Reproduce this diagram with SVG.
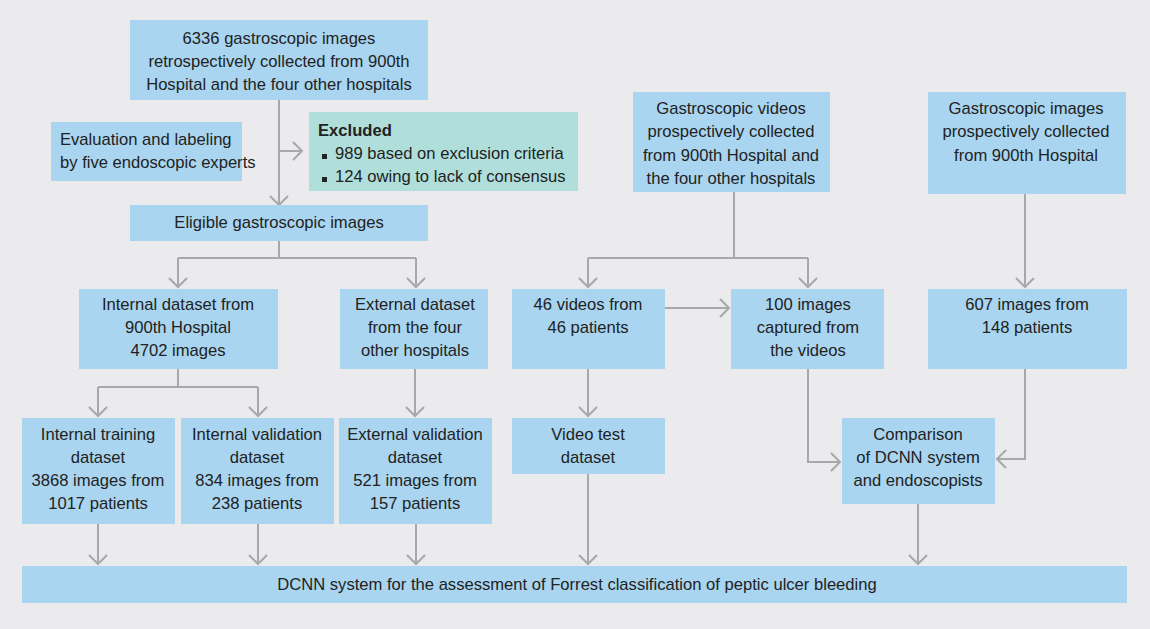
<svg xmlns="http://www.w3.org/2000/svg" width="1150" height="629" viewBox="0 0 1150 629">
<style>
.bx{fill:#a9d5f0}
.ex{fill:#b0dfdb}
text{font-family:"Liberation Sans",Arial,sans-serif;font-size:16.6px;fill:#222}
.c{text-anchor:middle}
.b{font-weight:bold}
.ln{fill:none;stroke:#a8a8aa;stroke-width:2}
</style>
<defs>
<marker id="ah" markerUnits="userSpaceOnUse" markerWidth="20" markerHeight="20" viewBox="0 0 20 20" refX="18" refY="10" orient="auto">
<path d="M9,1 L18,10 L9,19" fill="none" stroke="#a8a8aa" stroke-width="2"/>
</marker>
</defs>
<rect width="1150" height="629" fill="#ebebed"/>
<g id="connectors">
<path class="ln" d="M279,100 V205" marker-end="url(#ah)"/>
<path class="ln" d="M279,151 H302" marker-end="url(#ah)"/>
<path class="ln" d="M279,241 V258"/>
<path class="ln" d="M178,258 H416"/>
<path class="ln" d="M178,258 V287" marker-end="url(#ah)"/>
<path class="ln" d="M416,258 V287" marker-end="url(#ah)"/>
<path class="ln" d="M178,369 V387"/>
<path class="ln" d="M98,387 H258"/>
<path class="ln" d="M98,387 V416" marker-end="url(#ah)"/>
<path class="ln" d="M258,387 V416" marker-end="url(#ah)"/>
<path class="ln" d="M415,369 V416" marker-end="url(#ah)"/>
<path class="ln" d="M734,192 V258"/>
<path class="ln" d="M588,258 H808"/>
<path class="ln" d="M588,258 V287" marker-end="url(#ah)"/>
<path class="ln" d="M808,258 V287" marker-end="url(#ah)"/>
<path class="ln" d="M1025,194 V287" marker-end="url(#ah)"/>
<path class="ln" d="M665,308 H729" marker-end="url(#ah)"/>
<path class="ln" d="M588,369 V416" marker-end="url(#ah)"/>
<path class="ln" d="M808,369 V462 H840" marker-end="url(#ah)"/>
<path class="ln" d="M1025,369 V459 H997" marker-end="url(#ah)"/>
<path class="ln" d="M98,524 V564" marker-end="url(#ah)"/>
<path class="ln" d="M258,524 V564" marker-end="url(#ah)"/>
<path class="ln" d="M416,524 V564" marker-end="url(#ah)"/>
<path class="ln" d="M588,474 V564" marker-end="url(#ah)"/>
<path class="ln" d="M918,504 V564" marker-end="url(#ah)"/>
</g>
<g id="n-top">
<rect class="bx" x="130" y="20" width="298" height="80"/>
<text class="c" x="279" y="44">6336 gastroscopic images</text>
<text class="c" x="279" y="67">retrospectively collected from 900th</text>
<text class="c" x="279" y="90">Hospital and the four other hospitals</text>
</g>
<g id="n-eval">
<rect class="bx" x="51" y="122" width="191" height="59"/>
<text x="60" y="145">Evaluation and labeling</text>
<text x="60" y="168">by five endoscopic experts</text>
</g>
<g id="n-excl">
<rect class="ex" x="309" y="112" width="269" height="79"/>
<text class="b" x="318" y="136">Excluded</text>
<rect x="322" y="154" width="5" height="5" fill="#222"/>
<text x="335" y="159">989 based on exclusion criteria</text>
<rect x="322" y="177" width="5" height="5" fill="#222"/>
<text x="335" y="182">124 owing to lack of consensus</text>
</g>
<g id="n-elig">
<rect class="bx" x="130" y="205" width="298" height="36"/>
<text class="c" x="279" y="228">Eligible gastroscopic images</text>
</g>
<g id="n-int">
<rect class="bx" x="79" y="289" width="199" height="80"/>
<text class="c" x="178" y="310">Internal dataset from</text>
<text class="c" x="178" y="333">900th Hospital</text>
<text class="c" x="178" y="356">4702 images</text>
</g>
<g id="n-ext">
<rect class="bx" x="340" y="289" width="148" height="80"/>
<text class="c" x="415" y="310">External dataset</text>
<text class="c" x="415" y="333">from the four</text>
<text class="c" x="415" y="356">other hospitals</text>
</g>
<g id="n-itrain">
<rect class="bx" x="22" y="418" width="153" height="106"/>
<text class="c" x="98" y="440">Internal training</text>
<text class="c" x="98" y="463">dataset</text>
<text class="c" x="98" y="486">3868 images from</text>
<text class="c" x="98" y="509">1017 patients</text>
</g>
<g id="n-ival">
<rect class="bx" x="181" y="418" width="153" height="106"/>
<text class="c" x="257" y="440">Internal validation</text>
<text class="c" x="257" y="463">dataset</text>
<text class="c" x="257" y="486">834 images from</text>
<text class="c" x="257" y="509">238 patients</text>
</g>
<g id="n-eval2">
<rect class="bx" x="339" y="418" width="153" height="106"/>
<text class="c" x="415" y="440">External validation</text>
<text class="c" x="415" y="463">dataset</text>
<text class="c" x="415" y="486">521 images from</text>
<text class="c" x="415" y="509">157 patients</text>
</g>
<g id="n-vid">
<rect class="bx" x="633" y="92" width="197" height="100"/>
<text class="c" x="731" y="114">Gastroscopic videos</text>
<text class="c" x="731" y="137">prospectively collected</text>
<text class="c" x="731" y="161">from 900th Hospital and</text>
<text class="c" x="731" y="184">the four other hospitals</text>
</g>
<g id="n-img">
<rect class="bx" x="928" y="92" width="198" height="102"/>
<text class="c" x="1026" y="114">Gastroscopic images</text>
<text class="c" x="1026" y="137">prospectively collected</text>
<text class="c" x="1026" y="161">from 900th Hospital</text>
</g>
<g id="n-46">
<rect class="bx" x="512" y="289" width="153" height="80"/>
<text class="c" x="588" y="310">46 videos from</text>
<text class="c" x="588" y="333">46 patients</text>
</g>
<g id="n-100">
<rect class="bx" x="731" y="289" width="153" height="80"/>
<text class="c" x="808" y="310">100 images</text>
<text class="c" x="808" y="333">captured from</text>
<text class="c" x="808" y="356">the videos</text>
</g>
<g id="n-607">
<rect class="bx" x="928" y="289" width="199" height="80"/>
<text class="c" x="1027" y="310">607 images from</text>
<text class="c" x="1027" y="333">148 patients</text>
</g>
<g id="n-vtest">
<rect class="bx" x="512" y="418" width="153" height="56"/>
<text class="c" x="588" y="440">Video test</text>
<text class="c" x="588" y="463">dataset</text>
</g>
<g id="n-comp">
<rect class="bx" x="842" y="418" width="153" height="86"/>
<text class="c" x="918" y="440">Comparison</text>
<text class="c" x="918" y="463">of DCNN system</text>
<text class="c" x="918" y="486">and endoscopists</text>
</g>
<g id="n-dcnn">
<rect class="bx" x="22" y="566" width="1105" height="37"/>
<text class="c" x="577" y="590">DCNN system for the assessment of Forrest classification of peptic ulcer bleeding</text>
</g>
</svg>
